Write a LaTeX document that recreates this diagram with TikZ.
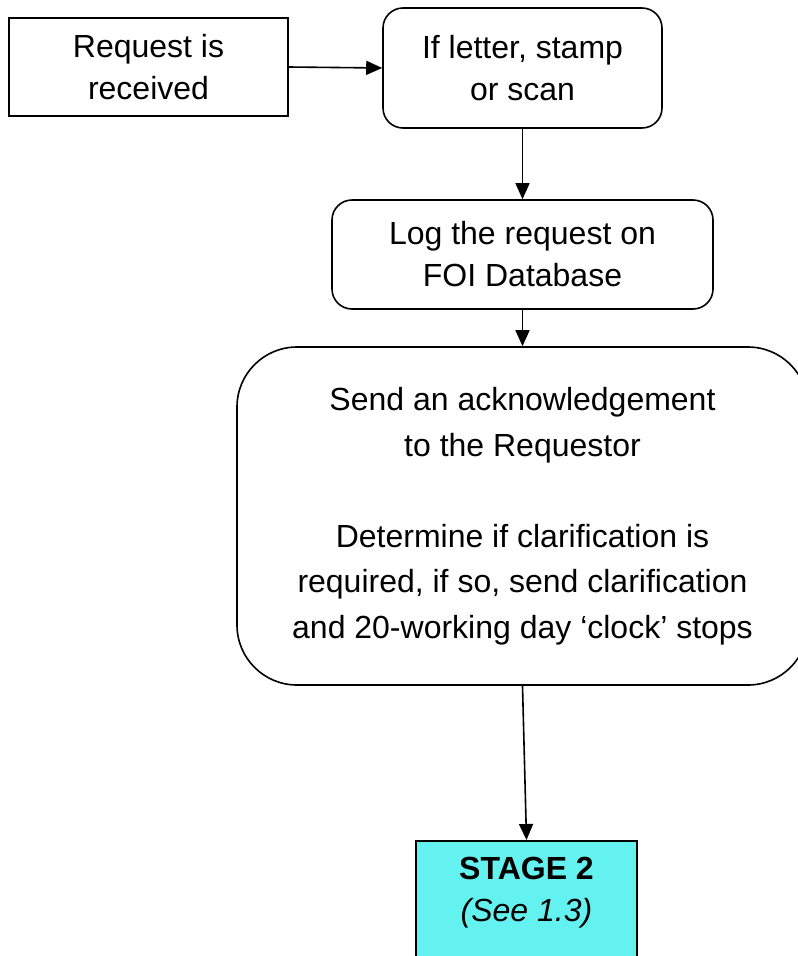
\documentclass[tikz,border=0pt]{standalone}
\usepackage{fontspec}
\setmainfont{Liberation Sans}
\usetikzlibrary{arrows.meta}
\definecolor{stagecyan}{RGB}{99,242,240}
\tikzset{
  flowbox/.style={draw=black, line width=1.6pt, align=center, inner sep=0pt,
    font=\fontsize{32}{42}\selectfont},
  roundbox/.style={flowbox, rounded corners=20pt},
  flowarrow/.style={line width=1.6pt, -{Triangle[length=16pt,width=14pt]}}
}
\begin{document}
\begin{tikzpicture}[x=1pt, y=-1pt]
  \useasboundingbox (0,0) rectangle (798,956);
  \fill[white] (0,0) rectangle (798,956);
  \clip (0,0) rectangle (798,956);

  \node[flowbox, minimum width=279pt, minimum height=98pt] (recv) at (148.5,67)
    {Request is\\received};
  \node[roundbox, minimum width=279pt, minimum height=120pt] (stamp) at (522.5,68)
    {If letter, stamp\\or scan};
  \node[roundbox, minimum width=381pt, minimum height=109pt] (log) at (522.5,254.5)
    {Log the request on\\FOI Database};
  \node[flowbox, rounded corners=60pt, minimum width=571pt, minimum height=338pt,
        font=\fontsize{32}{45.5}\selectfont] (ack) at (522.5,516)
    {Send an acknowledgement\\to the Requestor\\[45.5pt]Determine if clarification is\\required, if so, send clarification\\and 20-working day `clock' stops};
  \node[draw=black, line width=1.6pt, fill=stagecyan, minimum width=221pt,
        minimum height=160pt, anchor=north, inner sep=0pt] (stage) at (526.5,840) {};
  \node[align=center, inner sep=0pt, anchor=north, font=\fontsize{32}{42}\selectfont]
    (stagetext) at (526.5,857) {\textbf{STAGE 2}\\\textit{(See 1.3)}};

  \draw[flowarrow] (recv.east) -- (stamp.west);
  \draw[flowarrow] (stamp.south) -- (log.north);
  \draw[flowarrow] (log.south) -- (ack.north);
  \draw[flowarrow] (ack.south) -- (stage.north);
\end{tikzpicture}
\end{document}
